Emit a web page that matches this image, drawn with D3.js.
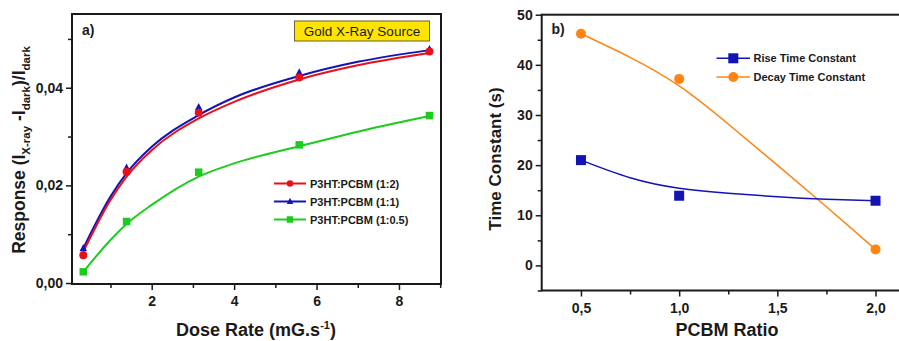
<!DOCTYPE html>
<html>
<head>
<meta charset="utf-8">
<script src="https://cdn.jsdelivr.net/npm/d3@7"></script>
<style>
  html, body { margin: 0; padding: 0; background: #fff; }
  svg { display: block; font-family: "Liberation Sans", Arial, sans-serif; }
</style>
</head>
<body>
<div class="chart"></div>
<script>
// panel a: response vs dose rate
const doseRate = [0.34, 1.39, 3.14, 5.58, 8.74];
const resp12 = [0.0057, 0.0228, 0.0349, 0.0421, 0.0474];
const resp11 = [0.0071, 0.0236, 0.0360, 0.0431, 0.0479];
const resp105 = [0.0023, 0.0126, 0.0227, 0.0283, 0.0343];
// fitted curves
const fitDose = [0.34, 1, 1.39, 2, 3.14, 4, 5.58, 7, 8.74];
const fit12 = [0.0064, 0.0170, 0.0218, 0.0272, 0.0337, 0.0371, 0.0417, 0.0446, 0.0471];
const fit11 = [0.0071, 0.0177, 0.0225, 0.0279, 0.0344, 0.0380, 0.0424, 0.0453, 0.0477];
const fit105 = [0.0023, 0.0088, 0.0121, 0.0160, 0.0218, 0.0245, 0.0280, 0.0310, 0.0342];
const seriesA = ["P3HT:PCBM (1:2)", "P3HT:PCBM (1:1)", "P3HT:PCBM (1:0.5)"];

// panel b: time constants vs PCBM ratio
const pcbmRatio = [0.5, 1.0, 2.0];
const riseTime = [21.0, 13.9, 12.9];
const decayTime = [46.2, 37.2, 3.2];
const fitRatio = [0.5, 0.75, 1.0, 1.25, 1.5, 1.75, 2.0];
const riseFit = [21.0, 17.5, 15.4, 14.4, 13.7, 13.2, 12.9];
const decayFit = [46.2, 41.5, 35.8, 28.2, 20.0, 11.7, 3.2];
const seriesB = ["Rise Time Constant", "Decay Time Constant"];

const width = 899, height = 341;
const ink = "#1a1a1a";

const svg = d3.select(".chart").append("svg")
  .attr("width", width)
  .attr("height", height);

const comma = f => v => d3.format(f)(v).replace(".", ",");

function styleAxis(g) {
  g.selectAll("path").attr("stroke", ink).attr("stroke-width", 2);
  g.selectAll("line").attr("stroke", ink).attr("stroke-width", 1.5);
  g.selectAll("text").attr("fill", ink).style("font-size", "14px").style("font-weight", "bold");
}

function marker(g, shape, x, y, size, color) {
  if (shape === "circle") {
    g.append("circle").attr("cx", x).attr("cy", y).attr("r", size / 2).attr("fill", color);
  } else if (shape === "square") {
    g.append("rect").attr("x", x - size / 2).attr("y", y - size / 2)
      .attr("width", size).attr("height", size).attr("fill", color);
  } else {
    const h = size * 0.95;
    g.append("path")
      .attr("d", `M${x},${y - h * 0.6}L${x + size / 2},${y + h * 0.4}L${x - size / 2},${y + h * 0.4}Z`)
      .attr("fill", color);
  }
}

// ---------- panel a ----------
(function () {
  const left = 72, right = 441, top = 14, bottom = 284;
  const x = d3.scaleLinear().domain([0.066, 9.02]).range([left, right]);
  const y = d3.scaleLinear().domain([-0.0002, 0.0551]).range([bottom, top]);
  const g = svg.append("g");

  // frame
  g.append("rect").attr("x", left).attr("y", top).attr("width", right - left).attr("height", bottom - top)
    .attr("fill", "none").attr("stroke", ink).attr("stroke-width", 2);

  // minor ticks
  g.append("g").attr("transform", `translate(0,${bottom})`)
    .call(d3.axisBottom(x).tickValues([1, 3, 5, 7, 9]).tickSize(4).tickFormat(""))
    .call(styleAxis).select(".domain").remove();
  g.append("g").attr("transform", `translate(${left},0)`)
    .call(d3.axisLeft(y).tickValues([0.01, 0.03, 0.05]).tickSize(4).tickFormat(""))
    .call(styleAxis).select(".domain").remove();

  g.append("g").attr("transform", `translate(0,${bottom})`)
    .call(d3.axisBottom(x).tickValues([2, 4, 6, 8]).tickSize(6).tickPadding(6).tickSizeOuter(0).tickFormat(d3.format("d")))
    .call(styleAxis).select(".domain").remove();
  g.append("g").attr("transform", `translate(${left},0)`)
    .call(d3.axisLeft(y).tickValues([0, 0.02, 0.04]).tickSize(6).tickPadding(3).tickSizeOuter(0).tickFormat(comma(".2f")))
    .call(styleAxis).select(".domain").remove();

  const colors = ["#e8101a", "#1414b4", "#1ccc1c"];
  const shapes = ["circle", "triangle", "square"];
  const fits = [fit12, fit11, fit105];
  const pts = [resp12, resp11, resp105];
  const line = d3.line().x(d => x(d[0])).y(d => y(d[1])).curve(d3.curveMonotoneX);

  [2, 1, 0].forEach(i => {
    g.append("path").datum(fitDose.map((d, k) => [d, fits[i][k]]))
      .attr("d", line).attr("fill", "none").attr("stroke", colors[i]).attr("stroke-width", 2);
  });
  [2, 1, 0].forEach(i => {
    doseRate.forEach((d, k) => {
      marker(g, shapes[i], x(d), y(pts[i][k]), i === 0 ? 8 : 7.5, colors[i]);
    });
  });

  // legend
  seriesA.forEach((name, i) => {
    const ly = 183.5 + i * 18;
    g.append("line").attr("x1", 274).attr("x2", 306).attr("y1", ly).attr("y2", ly)
      .attr("stroke", colors[i]).attr("stroke-width", 2);
    marker(g, shapes[i], 290, ly, 6.5, colors[i]);
    g.append("text").attr("x", 310).attr("y", ly + 4).text(name)
      .attr("fill", ink).style("font-size", "11px").style("font-weight", "bold");
  });

  // label box
  g.append("rect").attr("x", 294.5).attr("y", 21).attr("width", 135).attr("height", 20)
    .attr("fill", "#ffe400").attr("stroke", "#6b6030").attr("stroke-width", 1);
  g.append("text").attr("x", 362).attr("y", 36).attr("text-anchor", "middle")
    .text("Gold X-Ray Source").attr("fill", ink).style("font-size", "13.5px");

  g.append("text").attr("x", 82).attr("y", 35).text("a)")
    .attr("fill", ink).style("font-size", "14px").style("font-weight", "bold");

  // axis titles
  const xt = g.append("text").attr("x", 256).attr("y", 336).attr("text-anchor", "middle")
    .attr("fill", ink).style("font-size", "18px").style("font-weight", "bold");
  xt.append("tspan").text("Dose Rate (mG.s");
  xt.append("tspan").attr("dy", -7).style("font-size", "11px").text("-1");
  xt.append("tspan").attr("dy", 7).text(")");

  const yt = g.append("text").attr("transform", "translate(25,150) rotate(-90)").attr("text-anchor", "middle")
    .attr("fill", ink).style("font-size", "17.5px").style("font-weight", "bold");
  yt.append("tspan").text("Response (I");
  yt.append("tspan").attr("dy", 5).style("font-size", "11.5px").text("X-ray");
  yt.append("tspan").attr("dy", -5).text(" -I");
  yt.append("tspan").attr("dy", 5).style("font-size", "11.5px").text("dark");
  yt.append("tspan").attr("dy", -5).text(")/I");
  yt.append("tspan").attr("dy", 5).style("font-size", "11.5px").text("dark");
})();

// ---------- panel b ----------
(function () {
  const left = 541.7, right = 914.8, top = 14.7, bottom = 290.5;
  const x = d3.scaleLinear().domain([0.3, 2.2]).range([left, right]);
  const y = d3.scaleLinear().domain([-5, 50]).range([bottom, top]);
  const g = svg.append("g");

  g.append("rect").attr("x", left).attr("y", top).attr("width", right - left).attr("height", bottom - top)
    .attr("fill", "none").attr("stroke", ink).attr("stroke-width", 2);

  g.append("g").attr("transform", `translate(0,${bottom})`)
    .call(d3.axisBottom(x).tickValues([0.75, 1.25, 1.75]).tickSize(4).tickFormat(""))
    .call(styleAxis).select(".domain").remove();
  g.append("g").attr("transform", `translate(${left},0)`)
    .call(d3.axisLeft(y).tickValues([-5, 5, 15, 25, 35, 45]).tickSize(4).tickFormat(""))
    .call(styleAxis).select(".domain").remove();

  g.append("g").attr("transform", `translate(0,${bottom})`)
    .call(d3.axisBottom(x).tickValues([0.5, 1.0, 1.5, 2.0]).tickSize(6).tickPadding(7).tickSizeOuter(0).tickFormat(comma(".1f")))
    .call(styleAxis).select(".domain").remove();
  g.append("g").attr("transform", `translate(${left},0)`)
    .call(d3.axisLeft(y).tickValues([0, 10, 20, 30, 40, 50]).tickSize(6).tickPadding(3).tickSizeOuter(0).tickFormat(d3.format("d")))
    .call(styleAxis).select(".domain").remove();

  const colors = ["#1414b4", "#ff8410"];
  const shapes = ["square", "circle"];
  const fits = [riseFit, decayFit];
  const pts = [riseTime, decayTime];
  const line = d3.line().x(d => x(d[0])).y(d => y(d[1])).curve(d3.curveNatural);

  [1, 0].forEach(i => {
    g.append("path").datum(fitRatio.map((d, k) => [d, fits[i][k]]))
      .attr("d", line).attr("fill", "none").attr("stroke", colors[i]).attr("stroke-width", 1.5);
  });
  [0, 1].forEach(i => {
    pcbmRatio.forEach((d, k) => marker(g, shapes[i], x(d), y(pts[i][k]), 10, colors[i]));
  });

  seriesB.forEach((name, i) => {
    const ly = 58.3 + i * 18.7;
    g.append("line").attr("x1", 716.5).attr("x2", 750).attr("y1", ly).attr("y2", ly)
      .attr("stroke", colors[i]).attr("stroke-width", 1.5);
    marker(g, shapes[i], 733.3, ly, 10, colors[i]);
    g.append("text").attr("x", 753.5).attr("y", ly + 4).text(name)
      .attr("fill", ink).style("font-size", "11px").style("font-weight", "bold");
  });

  g.append("text").attr("x", 551.5).attr("y", 34).text("b)")
    .attr("fill", ink).style("font-size", "14px").style("font-weight", "bold");

  g.append("text").attr("x", 727).attr("y", 336).attr("text-anchor", "middle").text("PCBM Ratio")
    .attr("fill", ink).style("font-size", "18px").style("font-weight", "bold");
  g.append("text").attr("transform", "translate(501,159) rotate(-90)").attr("text-anchor", "middle")
    .text("Time Constant (s)").attr("fill", ink).style("font-size", "17px").style("font-weight", "bold");
})();
</script>
</body>
</html>
